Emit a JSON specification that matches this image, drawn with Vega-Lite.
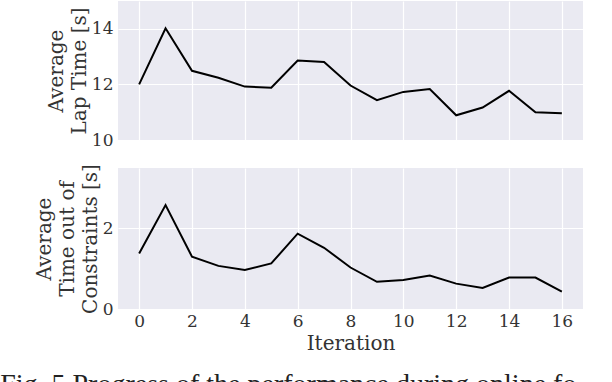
{
  "$schema": "https://vega.github.io/schema/vega-lite/v6.json",
  "padding": {"left": 0, "top": 1, "right": 5, "bottom": 0},
  "background": "white",
  "datasets": {
    "lap": [
      {"iteration": 0, "value": 12.0},
      {"iteration": 1, "value": 14.02},
      {"iteration": 2, "value": 12.49},
      {"iteration": 3, "value": 12.24},
      {"iteration": 4, "value": 11.92},
      {"iteration": 5, "value": 11.88},
      {"iteration": 6, "value": 12.86},
      {"iteration": 7, "value": 12.81},
      {"iteration": 8, "value": 11.96},
      {"iteration": 9, "value": 11.43},
      {"iteration": 10, "value": 11.73},
      {"iteration": 11, "value": 11.83},
      {"iteration": 12, "value": 10.89},
      {"iteration": 13, "value": 11.17},
      {"iteration": 14, "value": 11.77},
      {"iteration": 15, "value": 11.0},
      {"iteration": 16, "value": 10.96}
    ],
    "oob": [
      {"iteration": 0, "value": 1.38},
      {"iteration": 1, "value": 2.58},
      {"iteration": 2, "value": 1.3},
      {"iteration": 3, "value": 1.07},
      {"iteration": 4, "value": 0.97},
      {"iteration": 5, "value": 1.13},
      {"iteration": 6, "value": 1.87},
      {"iteration": 7, "value": 1.52},
      {"iteration": 8, "value": 1.03},
      {"iteration": 9, "value": 0.675},
      {"iteration": 10, "value": 0.72},
      {"iteration": 11, "value": 0.83},
      {"iteration": 12, "value": 0.63},
      {"iteration": 13, "value": 0.52},
      {"iteration": 14, "value": 0.78},
      {"iteration": 15, "value": 0.78},
      {"iteration": 16, "value": 0.43}
    ]
  },
  "title": {
    "text": "Fig. 5 Progress of the performance during online fo",
    "orient": "bottom",
    "anchor": "start",
    "frame": "bounds",
    "dx": -34,
    "offset": 18,
    "font": "Liberation Serif",
    "fontSize": 28,
    "fontWeight": "normal",
    "color": "#222222"
  },
  "config": {
    "view": {"fill": "#EAEAF2", "stroke": null},
    "font": "DejaVu Serif",
    "axis": {
      "domain": false,
      "ticks": false,
      "grid": true,
      "gridColor": "white",
      "gridWidth": 1.2,
      "labelFont": "DejaVu Serif",
      "labelFontSize": 17,
      "labelColor": "#333333",
      "titleFont": "DejaVu Serif",
      "titleFontSize": 20,
      "titleFontWeight": "normal",
      "titleColor": "#333333",
      "titleLineHeight": 23
    },
    "concat": {"spacing": 15}
  },
  "vconcat": [
    {
      "width": 465,
      "height": 139,
      "data": {"name": "lap"},
      "mark": {"type": "line", "color": "black", "strokeWidth": 2},
      "encoding": {
        "x": {
          "field": "iteration",
          "type": "quantitative",
          "scale": {"domain": [-0.8, 16.8], "nice": false, "zero": false},
          "axis": {"values": [0, 2, 4, 6, 8, 10, 12, 14, 16], "labels": false, "title": null}
        },
        "y": {
          "field": "value",
          "type": "quantitative",
          "scale": {"domain": [10, 15], "nice": false, "zero": false},
          "axis": {"values": [10, 12, 14], "title": ["Average", "Lap Time [s]"], "labelPadding": 5, "titlePadding": 2}
        }
      }
    },
    {
      "width": 465,
      "height": 141,
      "data": {"name": "oob"},
      "mark": {"type": "line", "color": "black", "strokeWidth": 2},
      "encoding": {
        "x": {
          "field": "iteration",
          "type": "quantitative",
          "scale": {"domain": [-0.8, 16.8], "nice": false, "zero": false},
          "axis": {"values": [0, 2, 4, 6, 8, 10, 12, 14, 16], "title": "Iteration", "labelPadding": 4, "titlePadding": 4}
        },
        "y": {
          "field": "value",
          "type": "quantitative",
          "scale": {"domain": [0, 3.5], "nice": false},
          "axis": {"values": [0, 2], "title": ["Average", "Time out of", "Constraints [s]"], "labelPadding": 5, "titlePadding": 2}
        }
      }
    }
  ]
}
